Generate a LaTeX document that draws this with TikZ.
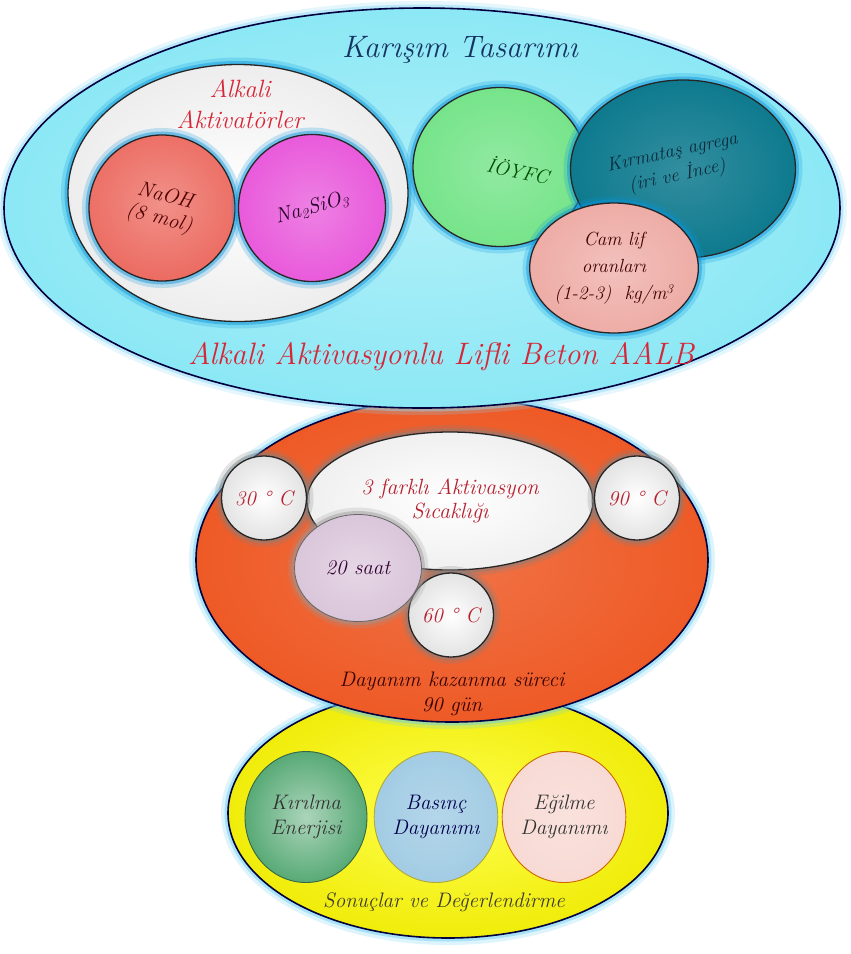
\documentclass[tikz,border=0pt]{standalone}
\usepackage{fontspec}
\setmainfont{Latin Modern Roman}
\usetikzlibrary{shapes.geometric}

\definecolor{aalbcyan}{RGB}{140,232,245}
\definecolor{aalborange}{RGB}{238,90,38}
\definecolor{aalbyellow}{RGB}{240,236,10}
\definecolor{aalbred}{RGB}{215,38,55}
\definecolor{titleblue}{RGB}{22,52,98}
\definecolor{naohred}{RGB}{236,108,98}
\definecolor{silikat}{RGB}{232,86,218}
\definecolor{ioyfcgreen}{RGB}{118,228,138}
\definecolor{agregateal}{RGB}{14,122,142}
\definecolor{agregatext}{RGB}{8,42,58}
\definecolor{campink}{RGB}{238,172,166}
\definecolor{saatlila}{RGB}{218,198,218}
\definecolor{kirilmagreen}{RGB}{88,170,118}
\definecolor{basincblue}{RGB}{162,204,228}
\definecolor{egilmepink}{RGB}{248,218,212}

\newcommand{\txtsize}[2]{\fontsize{#1}{#2}\selectfont\itshape}

\tikzset{
    zone/.style={ellipse, draw=black!75!blue, line width=1.6pt, inner sep=0pt, shade},
    blob/.style={ellipse, draw=black!85, line width=1.3pt, inner sep=0pt, align=center, shade},
    halo/.style={preaction={draw=#1, line width=14pt, opacity=.22},
                 preaction={draw=#1, line width=7pt, opacity=.45}},
    tempcircle/.style={blob, halo=black!50, minimum width=85, minimum height=84,
                 inner color=white, outer color=gray!22, text=aalbred!85!black, font=\txtsize{21}{25}},
    result/.style={ellipse, line width=0.9pt, inner sep=0pt, align=center, shade,
                 minimum width=122, minimum height=131, font=\txtsize{21}{25}}
}

\begin{document}
\begin{tikzpicture}[x=1pt, y=-1pt]
    \useasboundingbox (0,0) rectangle (851,954);
    \fill[white] (0,0) rectangle (851,954);

    % --- GRANDES ZONES ---
    \node (sonuclar) [zone, halo=cyan!60, minimum width=440, minimum height=250,
        inner color=yellow!70!white, outer color=aalbyellow] at (448,813) {};
    \node (dayanim) [zone, halo=cyan!60, minimum width=512, minimum height=324,
        inner color=aalborange!85!white, outer color=aalborange] at (452,560) {};
    \node (karisim) [zone, halo=cyan!45, minimum width=836, minimum height=400,
        inner color=aalbcyan!70!white, outer color=aalbcyan] at (422,208) {};

    % --- KARISIM TASARIMI ---
    \node (karisim_txt) [font=\txtsize{31}{37}, text=titleblue] at (460,50) {Karışım Tasarımı};
    \node (aktivator) [blob, halo=cyan!80!blue, minimum width=340, minimum height=257,
        inner color=white, outer color=gray!14] at (238,193) {};
    \node (aktivator_txt) [font=\txtsize{25}{31}, text=aalbred, align=center] at (240,104) {Alkali\\Aktivatörler};
    \node (naoh) [blob, halo=cyan!80!blue, minimum size=146, inner color=naohred!75!white,
        outer color=naohred, rotate=-15, font=\txtsize{21}{23}, text=black!70!red] at (162,208) {NaOH\\(8 mol)};
    \node (na2sio3) [blob, halo=cyan!80!blue, minimum size=147, inner color=silikat!75!white,
        outer color=silikat, rotate=15, font=\txtsize{21}{25}, text=black!70!violet] at (312,208) {Na\textsubscript{2}SiO\textsubscript{3}};

    \node (ioyfc) [blob, halo=cyan!80!blue, minimum width=174, minimum height=159,
        inner color=ioyfcgreen!80!white, outer color=ioyfcgreen] at (500,167) {};
    \node (kirmatas) [blob, halo=cyan!80!blue, minimum width=225, minimum height=178,
        inner color=agregateal!85!white, outer color=agregateal] at (683,169) {};
    \node (ioyfc_txt) [font=\txtsize{20}{24}, text=black!70!green, rotate=-12] at (518,170) {İÖYFC};
    \node (kirmatas_txt) [font=\txtsize{19}{24}, text=agregatext, rotate=12, align=center] at (675,165) {Kırmataş agrega\\(iri ve İnce)};
    \node (camlif) [blob, halo=cyan!80!blue, minimum width=155, minimum height=130,
        inner color=campink!75!white, outer color=campink, font=\txtsize{19}{27},
        text=black!75!red] at (614,268) {Cam lif\\oranları\\(1-2-3)\ \ kg/m\textsuperscript{3}};

    \node (aalb_txt) [font=\txtsize{31}{37}, text=aalbred] at (441,357) {Alkali Aktivasyonlu Lifli Beton AALB};

    % --- ACTIVATION ---
    \node (sicaklik) [blob, halo=black!50, minimum width=286, minimum height=138,
        inner color=white, outer color=gray!12, font=\txtsize{22}{24}, text=aalbred!85!black] at (450,501)
        {3 farklı Aktivasyon\\Sıcaklığı};
    \node (t30) [tempcircle] at (264,498) {30 ° C};
    \node (t90) [tempcircle] at (637,498) {90 ° C};
    \node (t60) [tempcircle] at (451,615) {60 ° C};
    \node (saat) [blob, halo=black!40, minimum width=127, minimum height=107, line width=0.8pt,
        draw=black!60, inner color=saatlila!70!white, outer color=saatlila,
        font=\txtsize{21}{25}, text=black!60!violet] at (358,568) {20 saat};
    \node (dayanim_txt) [font=\txtsize{21}{25}, text=black!80!red, align=center] at (452,694)
        {Dayanım kazanma süreci\\90 gün};

    % --- SONUCLAR ---
    \node (kirilma) [result, draw=kirilmagreen!60!black, inner color=kirilmagreen!50!white,
        outer color=kirilmagreen, text=black!80] at (306,817) {Kırılma\\Enerjisi};
    \node (basinc) [result, draw=olive!70, inner color=basincblue!80!white,
        outer color=basincblue, text=black!70!blue] at (436,817) {Basınç\\Dayanımı};
    \node (egilme) [result, draw=orange!80!black, inner color=egilmepink!80!white,
        outer color=egilmepink, text=black!80] at (564,817) {Eğilme\\Dayanımı};
    \node (sonuclar_txt) [font=\txtsize{21}{25}, text=black!75!olive] at (444,902) {Sonuçlar ve Değerlendirme};

\end{tikzpicture}
\end{document}
